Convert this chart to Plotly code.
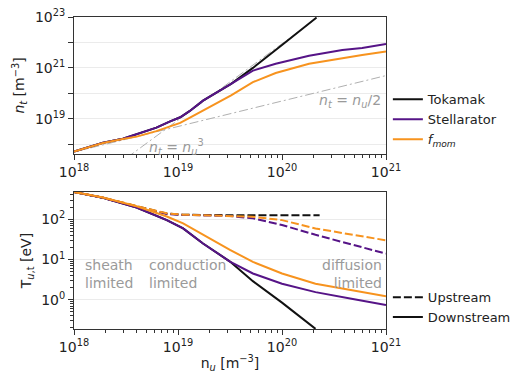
import math
import plotly.graph_objects as go

# ---------------- data ----------------
# top panel: target density vs upstream density
nu_top = [1.0e18, 1.9e18, 2.95e18, 4.0e18, 6.2e18, 8.3e18, 1.05e19, 1.29e19, 1.74e19,
          3.24e19, 5.25e19, 8.7e19, 1.82e20, 3.8e20, 5.9e20, 1.0e21]
nt_stellarator = [5.2e17, 1.15e18, 1.66e18, 2.45e18, 4.5e18, 7.8e18, 1.15e19, 2.0e19, 5.2e19,
                  2.35e20, 7.8e20, 1.45e21, 3.0e21, 5.1e21, 6.0e21, 8.7e21]
nt_fmom = [5.2e17, 1.12e18, 1.6e18, 2.0e18, 3.3e18, 4.9e18, 6.9e18, 1.1e19, 2.15e19,
           8.3e19, 2.75e20, 6.3e20, 1.45e21, 2.45e21, 3.2e21, 4.4e21]
nu_tok_top = [1.0e18, 1.9e18, 2.95e18, 4.0e18, 6.2e18, 8.3e18, 1.05e19, 1.29e19, 1.74e19,
              3.24e19, 5.25e19, 1.0e20, 2.15e20]
nt_tokamak = [5.2e17, 1.15e18, 1.66e18, 2.45e18, 4.5e18, 7.8e18, 1.15e19, 2.0e19, 5.2e19,
              2.35e20, 1.0e21, 7.9e21, 9.5e22]

# reference scalings (end points)
ref_cube_nu = [3.2e18, 2.6e20]
ref_cube_nt = [2.9e17, 1.57e23]
ref_half_nu = [1.0e18, 1.0e21]
ref_half_nt = [5.0e17, 5.0e20]

# bottom panel: temperatures
nu_bot = [1.0e18, 1.9e18, 4.0e18, 7.8e18, 1.12e19, 1.74e19, 3.16e19, 5.25e19, 1.0e20,
          2.1e20, 4.8e20, 1.0e21]
Tt_stellarator = [475, 340, 195, 95, 59, 25, 8.9, 4.5, 2.5, 1.55, 1.05, 0.74]
Tt_fmom = [475, 345, 210, 117, 79, 41, 17.4, 8.7, 4.5, 2.5, 1.7, 1.23]
Tu_stellarator = [475, 340, 205, 135, 128, 125, 120, 105, 72, 41, 23, 14]
Tu_fmom = [475, 345, 212, 140, 130, 126, 123, 115, 95, 59, 41, 30]
nu_tok_bot = [1.0e18, 1.9e18, 4.0e18, 7.8e18, 1.12e19, 1.74e19, 3.16e19, 5.25e19, 1.0e20, 2.1e20]
Tt_tokamak = [475, 340, 195, 95, 59, 25, 8.9, 2.9, 0.85, 0.19]
nu_tok_up = [1.0e18, 1.9e18, 4.0e18, 7.8e18, 1.12e19, 1.74e19, 3.16e19, 5.25e19, 1.0e20, 2.3e20]
Tu_tokamak = [475, 340, 210, 138, 129, 126, 126, 126, 126, 126]

regime_bounds = [4.0e18, 3.2e19]

# ---------------- style ----------------
BLACK = "#111111"
PURPLE = "#561487"
ORANGE = "#f7931e"
GRAY_TXT = "#9a9a9a"
FONT = "DejaVu Sans"
LW = 2

fig = go.Figure()

def add(x, y, color, xa, ya, name=None, dash="solid", legend="legend", show=False, width=LW):
    fig.add_trace(go.Scatter(x=x, y=y, mode="lines", name=name, xaxis=xa, yaxis=ya,
                             line=dict(color=color, width=width, dash=dash),
                             showlegend=show, legend=legend, hoverinfo="skip"))

# reference lines (top)
add(ref_cube_nu, ref_cube_nt, "#b0b0b0", "x", "y", dash="9px,3px,2px,3px", width=1)
add(ref_half_nu, ref_half_nt, "#b0b0b0", "x", "y", dash="9px,3px,2px,3px", width=1)

# top
add(nu_tok_top, nt_tokamak, BLACK, "x", "y", name="Tokamak", show=True)
add(nu_top, nt_stellarator, PURPLE, "x", "y", name="Stellarator", show=True)
add(nu_top, nt_fmom, ORANGE, "x", "y", name="<i>f<sub>mom</sub></i>", show=True)

# bottom
DASH = "8px,3px"
add(nu_tok_up, Tu_tokamak, BLACK, "x2", "y2", dash=DASH)
add(nu_tok_bot, Tt_tokamak, BLACK, "x2", "y2")
add(nu_bot, Tu_stellarator, PURPLE, "x2", "y2", dash=DASH)
add(nu_bot, Tt_stellarator, PURPLE, "x2", "y2")
add(nu_bot, Tu_fmom, ORANGE, "x2", "y2", dash=DASH)
add(nu_bot, Tt_fmom, ORANGE, "x2", "y2")

# legend-only entries for bottom
fig.add_trace(go.Scatter(x=[None], y=[None], mode="lines", name="Upstream", xaxis="x2", yaxis="y2",
                         line=dict(color=BLACK, width=LW, dash=DASH), legend="legend2"))
fig.add_trace(go.Scatter(x=[None], y=[None], mode="lines", name="Downstream", xaxis="x2", yaxis="y2",
                         line=dict(color=BLACK, width=LW), legend="legend2"))

# regime boundaries
for b in regime_bounds:
    for xr, yr in (("x", "y domain"), ("x2", "y2 domain")):
        fig.add_shape(type="line", xref=xr, yref=yr, x0=math.log10(b), x1=math.log10(b), y0=0, y1=1,
                      line=dict(color="#808080", width=0.8, dash="3px,2px"), layer="below")

sup = lambda e: f"10<sup>{e}</sup>"
x_major = [1e18, 1e19, 1e20, 1e21]
x_minor = [m * 10.0 ** e for e in range(18, 21) for m in range(2, 10)]

axis_common = dict(type="log", showline=True, linecolor="#333333", linewidth=1, mirror=True,
                   ticks="outside", ticklen=5, tickwidth=1, tickcolor="#333333", automargin=False,
                   ticklabeloverflow="allow",
                   tickfont=dict(family=FONT, size=14, color="#222222"), zeroline=False)

xaxis_cfg = dict(axis_common, range=[18, 21], tickmode="array", tickvals=x_major,
                 ticktext=[sup(e) for e in range(18, 22)], showgrid=False,
                 minor=dict(tickmode="array", tickvals=x_minor, ticks="outside", ticklen=3,
                            tickcolor="#333333", showgrid=False))

fig.update_layout(
    width=512, height=366,
    margin=dict(l=66, r=134, t=9, b=45, autoexpand=False),
    paper_bgcolor="#ffffff", plot_bgcolor="#ffffff",
    font=dict(family=FONT, size=14, color="#222222"),
    xaxis=dict(xaxis_cfg, anchor="y"),
    xaxis2=dict(xaxis_cfg, anchor="y2",
                title=dict(text="n<sub><i>u</i></sub> [m<sup>−3</sup>]", standoff=4,
                           font=dict(family=FONT, size=14))),
    yaxis=dict(axis_common, domain=[0.561, 1.0], anchor="x", range=[17.62, 23],
               tickmode="array", tickvals=[10.0 ** e for e in range(18, 24)],
               ticktext=["", sup(19), "", sup(21), "", sup(23)],
               showgrid=True, gridcolor="#ebebeb", gridwidth=1,
               title=dict(text="<i>n<sub>t</sub></i> [m<sup>−3</sup>]", standoff=6,
                          font=dict(family=FONT, size=14))),
    yaxis2=dict(axis_common, domain=[0.0, 0.439], anchor="x2", range=[-0.725, 2.675],
                tickmode="array", tickvals=[1, 10, 100], ticktext=[sup(0), sup(1), sup(2)],
                showgrid=True, gridcolor="#ebebeb", gridwidth=1,
                minor=dict(tickmode="array",
                           tickvals=[m * 10.0 ** e for e in range(-1, 3) for m in range(2, 10)],
                           ticks="outside", ticklen=3, tickcolor="#333333", showgrid=False),
                title=dict(text="T<sub><i>u</i>,t</sub> [eV]", standoff=6,
                           font=dict(family=FONT, size=14))),
    legend=dict(x=1.006, xanchor="left", y=0.784, yanchor="top", bgcolor="rgba(0,0,0,0)",
                font=dict(family=FONT, size=13, color="#222222"), tracegroupgap=0),
    legend2=dict(x=1.006, xanchor="left", y=0.15, yanchor="top", bgcolor="rgba(0,0,0,0)",
                 font=dict(family=FONT, size=13, color="#222222"), tracegroupgap=0),
    showlegend=True,
)

# annotations
ann = dict(showarrow=False, font=dict(family=FONT, size=14, color=GRAY_TXT))
fig.add_annotation(ann, text="<i>n<sub>t</sub></i> = <i>n<sub>u</sub></i><sup>3</sup>",
                   xref="x domain", yref="y domain", x=0.33, y=0.05, xanchor="center", yanchor="middle")
fig.add_annotation(ann, text="<i>n<sub>t</sub></i> = <i>n<sub>u</sub></i>/2",
                   xref="x domain", yref="y domain", x=0.99, y=0.39, xanchor="right", yanchor="middle")
fig.add_annotation(ann, text="sheath<br>limited", xref="x2 domain", yref="y2 domain",
                   x=0.03, y=0.4, xanchor="left", yanchor="middle", align="left")
fig.add_annotation(ann, text="conduction<br>limited", xref="x2 domain", yref="y2 domain",
                   x=0.235, y=0.4, xanchor="left", yanchor="middle", align="left")
fig.add_annotation(ann, text="diffusion<br>limited", xref="x2 domain", yref="y2 domain",
                   x=0.995, y=0.4, xanchor="right", yanchor="middle", align="right")

fig.write_html("out.html")
